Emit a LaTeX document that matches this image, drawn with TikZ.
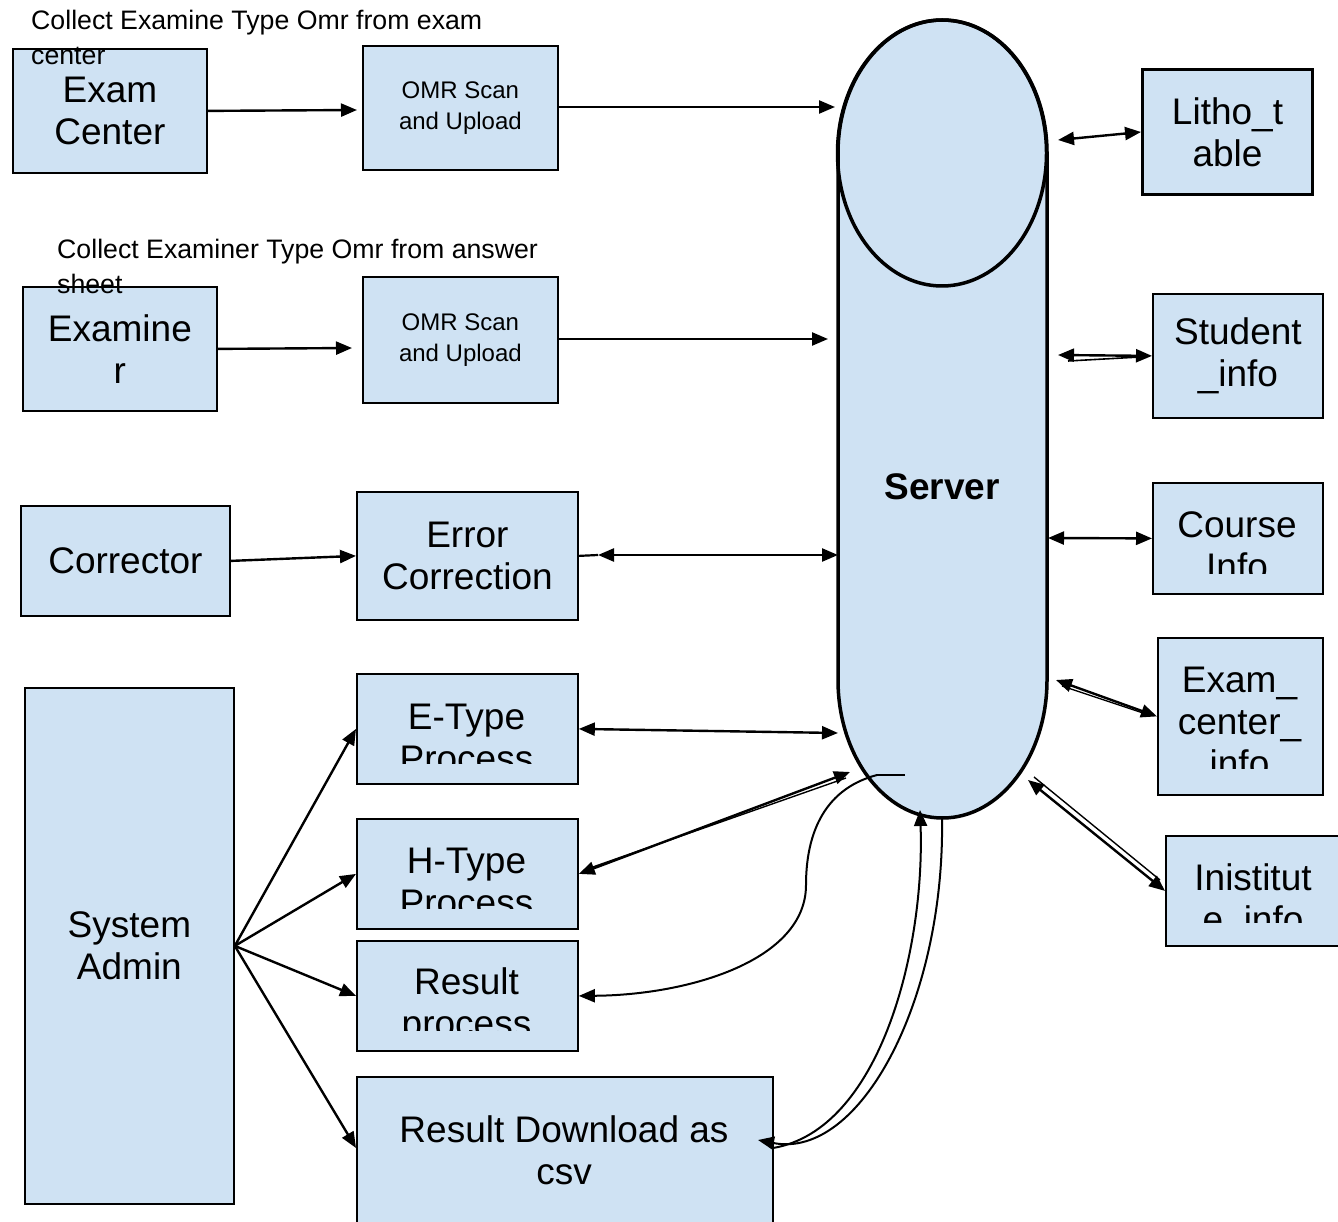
\documentclass[tikz,border=0pt]{standalone}
\usepackage{fontspec}
\setmainfont{Liberation Sans}
\usetikzlibrary{arrows.meta}
\definecolor{boxblue}{HTML}{CFE2F3}
\begin{document}
\begin{tikzpicture}[x=1pt,y=-1pt,
  box/.style={draw=black, line width=1.8pt, fill=boxblue, inner sep=0pt, anchor=north west, align=center, font=\fontsize{37}{42}\selectfont},
  big/.style={font=\fontsize{37}{42}\selectfont, align=center, inner sep=0pt},
  omrtxt/.style={font=\fontsize{24}{31}\selectfont},
  captxt/.style={font=\fontsize{26.7}{35}\selectfont, anchor=base west, inner sep=0pt},
  conn/.style={line width=2.4pt, -{Triangle[length=16pt,width=13pt]}},
  bi/.style={line width=2.4pt, {Triangle[length=16pt,width=13pt]}-{Triangle[length=16pt,width=13pt]}},
  plainln/.style={line width=2.2pt},
]
\clip (0,0) rectangle (1338,1222);
\fill[white] (0,0) rectangle (1338,1222);

% ---------- server ----------
\draw[fill=boxblue, line width=3.5pt] (838,153) arc[start angle=180, end angle=360, x radius=104.5, y radius=133]
  -- (1047,680) arc[start angle=0, end angle=180, x radius=104.5, y radius=138] -- cycle;
\draw[line width=3.5pt] (942,153) ellipse [x radius=104.5, y radius=133];
\node[font=\fontsize{37}{42}\selectfont\bfseries, inner sep=0pt] (srv) at (942,487) {Server};

% ---------- left boxes ----------
\node[box, minimum width=194pt, minimum height=124pt] (ec) at (12,48) {Exam\\Center};
\node[box, omrtxt, minimum width=195pt, minimum height=124pt] (omr1) at (362,45) {OMR Scan\\and Upload};
\node[box, minimum width=194pt, minimum height=124pt] (exr) at (22,286) {Examine\\r};
\node[box, omrtxt, minimum width=195pt, minimum height=126pt] (omr2) at (362,276) {OMR Scan\\and Upload};
\node[box, minimum width=209pt, minimum height=110pt] (cor) at (20,505) {Corrector};
\node[box, minimum width=221pt, minimum height=128pt] (err) at (356,491) {Error\\Correction};
\node[box, minimum width=209pt, minimum height=516pt] (sa) at (24,687) {System\\Admin};
\node[box, minimum width=221pt, minimum height=110pt] (et) at (356,673) {};
\node[box, minimum width=221pt, minimum height=110pt] (ht) at (356,818) {};
\node[box, minimum width=221pt, minimum height=110pt] (rp) at (356,940) {};
\node[box, minimum width=416pt, minimum height=170pt] (rd) at (356,1076) {};
\node[big] (rdt) at (564,1150) {Result Download as\\csv};

% clipped texts
\begin{scope}
\clip (356,673) rectangle (577,763);
\node[big] (ett) at (466.5,738) {E-Type\\Process};
\end{scope}
\begin{scope}
\clip (356,818) rectangle (577,908);
\node[big] (htt) at (466.5,882) {H-Type\\Process};
\end{scope}
\begin{scope}
\clip (356,940) rectangle (577,1030);
\node[big] (rpt) at (466.5,1006) {Result\\process};
\end{scope}

% ---------- right boxes ----------
\node[box, line width=3pt, minimum width=170pt, minimum height=125pt] (litho) at (1141,68) {Litho\_t\\able};
\node[box, minimum width=170pt, minimum height=124pt] (stud) at (1152,293) {Student\\\_info};
\node[box, minimum width=170pt, minimum height=111pt] (course) at (1152,482) {};
\node[box, minimum width=165pt, minimum height=157pt] (eci) at (1157,637) {};
\node[box, minimum width=180pt, minimum height=110pt] (inst) at (1165,835) {};
\begin{scope}
\clip (1152,482) rectangle (1322,573);
\node[big] (coursetext) at (1237,546) {Course\\Info};
\end{scope}
\begin{scope}
\clip (1157,637) rectangle (1322,768);
\node[big] (ecitext) at (1239.5,722) {Exam\_\\center\_\\info};
\end{scope}
\begin{scope}
\clip (1165,835) rectangle (1338,922);
\node[big] (insttext) at (1253,902) {Inistitut\\e\_info};
\end{scope}

% ---------- captions ----------
\node[captxt] (c1a) at (31,30) {Collect Examine Type Omr from exam};
\node[captxt] (c1b) at (31,65) {center};
\node[captxt] (c2a) at (57,259) {Collect Examiner Type Omr from answer};
\node[captxt] (c2b) at (57,294) {sheet};

% ---------- connector end points ----------
\coordinate (s1) at (835,107);
\coordinate (s2) at (828,339);
\coordinate (s3) at (838,555);
\coordinate (e3) at (598,555);
\coordinate (s4) at (838,733);
\coordinate (s5) at (850,772);
\coordinate (s5b) at (846,778);
\coordinate (ht2) at (590,868);
\coordinate (s6) at (1058,140);
\coordinate (s7) at (1058,355);
\coordinate (s7b) at (1068,361);
\coordinate (st2) at (1140,357);
\coordinate (s8) at (1048,538);
\coordinate (s9) at (1056,680);
\coordinate (s9b) at (1062,686);
\coordinate (ec2) at (1146,714);
\coordinate (s10) at (1028,780);
\coordinate (s10b) at (1034,777);
\coordinate (in2) at (1160,880);
\coordinate (rcs) at (877,775);
\coordinate (rcs2) at (905,775);
\coordinate (sb1) at (920,810);
\coordinate (sb2) at (942,818);
\coordinate (dl) at (773,1148);
\coordinate (dlt) at (758,1140);

% ---------- connectors ----------
\draw[conn] (ec.east) -- (357,110);
\draw[conn] (omr1.east |- s1) -- (s1);
\draw[conn] (exr.east) -- (352,348);
\draw[conn] (omr2.east |- s2) -- (s2);
\draw[conn] (cor.east) -- (err.west);
\draw[plainln] (err.east) -- (e3);
\draw[bi] (e3) -- (s3);
\draw[bi] (et.east) -- (s4);
\draw[bi] (ht.east) -- (s5);
\draw[line width=1.4pt] (ht2) -- (s5b);

\draw[conn] (sa.east) -- (et.west);
\draw[conn] (sa.east) -- (ht.west);
\draw[conn] (sa.east) -- (rp.west);
\draw[conn] (sa.east) -- (356,1148);

\draw[bi] (s6) -- (litho.west);
\draw[bi] (s7) -- (stud.west);
\draw[line width=1.6pt] (s7b) -- (st2);
\draw[bi] (s8) -- (course.west);
\draw[bi] (s9) -- (eci.west);
\draw[line width=1.4pt] (s9b) -- (ec2);
\draw[bi] (s10) -- (inst.west);
\draw[line width=1.4pt] (s10b) -- (in2);

% curves
\draw[line width=1.6pt] (rcs2) -- (rcs);
\draw[line width=2pt, -{Triangle[length=16pt,width=13pt]}] (rcs) .. controls (820,790) and (806,840) .. (806,885)
   .. controls (806,960) and (690,995) .. (rp.east);
\draw[line width=2pt, -{Triangle[length=16pt,width=13pt]}] (dl) .. controls (880,1130) and (925,950) .. (sb1);
\draw[line width=2pt, -{Triangle[length=16pt,width=13pt]}] (sb2) .. controls (945,1000) and (860,1160) .. (dlt);
\end{tikzpicture}
\end{document}
